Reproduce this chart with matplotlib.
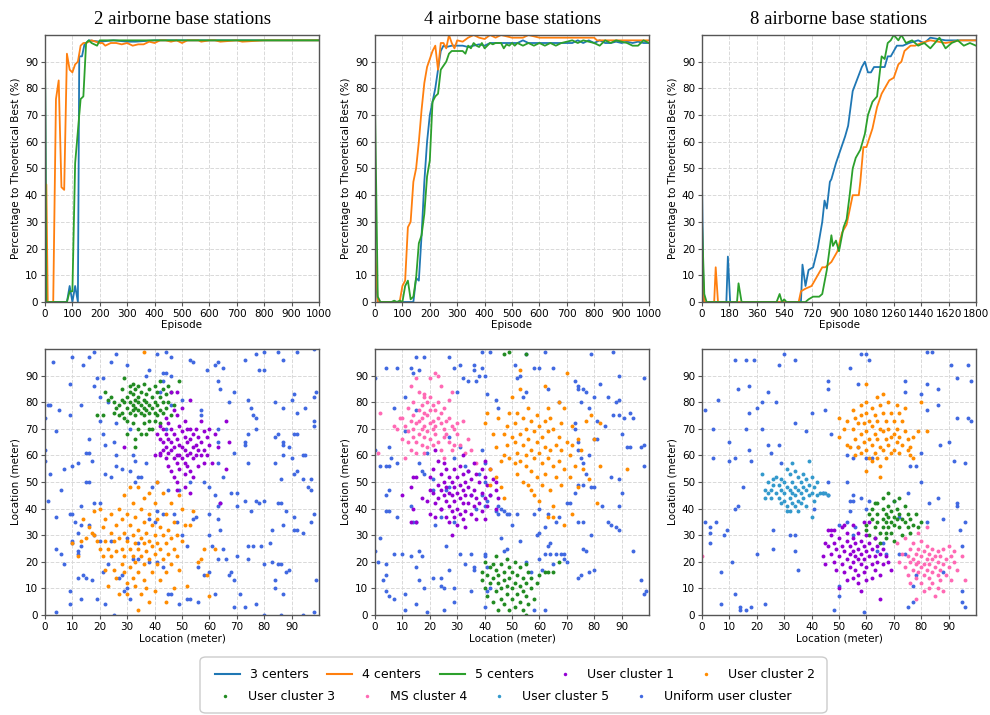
import numpy as np
import matplotlib.pyplot as plt
from matplotlib.lines import Line2D
from matplotlib.patches import FancyBboxPatch

# ---- training curves (episode, % of theoretical best) ----

# 2 airborne base stations
ep2_c3 = [0, 5, 10, 80, 90, 100, 110, 120, 125, 135, 145, 150, 160, 200, 250, 300, 330, 400, 500, 600, 700, 800, 900, 1000]
val2_c3 = [91, 0, 0, 0, 6, 0, 6, 0, 92, 92, 97, 97, 98, 97.5, 98, 97.5, 97.5, 98, 98, 98, 98, 98, 98, 98]
ep2_c4 = [0, 5, 10, 20, 30, 40, 50, 60, 70, 80, 90, 100, 110, 120, 130, 140, 150, 170, 200, 210, 220, 240, 260, 280,
          300, 320, 340, 360, 380, 400, 420, 440, 460, 480, 500, 520, 560, 570, 600, 620, 640, 700, 720, 800, 900, 1000]
val2_c4 = [20, 44, 0, 0, 0, 76, 83, 43, 42, 93, 87, 86, 89, 90, 96, 97, 97, 98, 97, 97, 96, 97, 97, 96.5,
           97, 96, 96.5, 96.5, 97.5, 97, 98, 98, 97.5, 98, 97, 98, 98, 97.5, 98, 98, 97.5, 98, 97.5, 98, 98, 98]
ep2_c5 = [0, 5, 10, 80, 90, 100, 110, 120, 130, 140, 150, 160, 170, 180, 190, 200, 300, 400, 500, 600, 700, 800, 900, 1000]
val2_c5 = [95, 0, 0, 0, 4, 4, 52, 64, 76, 77, 97, 98, 97, 96.5, 96, 98, 98, 98, 98, 98, 98, 98, 98, 98]

# 4 airborne base stations
ep4_c3 = [0, 10, 20, 140, 150, 160, 170, 180, 190, 200, 210, 220, 230, 240, 250, 260, 280, 300, 320, 340, 360, 380,
          400, 420, 460, 480, 500, 520, 540, 560, 600, 640, 700, 720, 740, 760, 780, 800, 820, 840, 860, 880, 900,
          920, 940, 960, 980, 1000]
val4_c3 = [12, 0, 0, 0, 9, 8, 25, 45, 60, 70, 75, 80, 87, 94, 96, 95.5, 96, 96, 96, 95.5, 96, 96.5,
           96, 97, 97, 97, 97, 97, 98, 97, 97, 97, 97, 97, 98, 97, 98, 97, 98, 97, 97, 97.5, 97,
           97.5, 97, 97.5, 97, 97]
ep4_c4 = [0, 10, 20, 90, 100, 110, 120, 130, 140, 150, 160, 170, 180, 190, 200, 210, 220, 230, 240, 250, 260, 270,
          280, 290, 300, 320, 340, 360, 380, 400, 420, 440, 460, 480, 500, 540, 560, 600, 700, 800, 810, 900, 1000]
val4_c4 = [22, 0, 0, 0, 6, 8, 28, 30, 45, 50, 60, 72, 82, 88, 91, 94, 96, 87, 97, 97, 95, 100,
           97, 95, 98, 97.5, 99, 100, 99, 98.5, 100, 99, 100, 99.5, 99, 99, 100, 99, 99, 99, 98, 98, 98]
ep4_c5 = [0, 10, 20, 60, 70, 80, 90, 100, 110, 120, 130, 140, 150, 160, 170, 180, 190, 200, 210, 220, 230, 240,
          250, 260, 270, 280, 320, 330, 340, 350, 360, 370, 380, 390, 400, 410, 420, 430, 440, 460, 470, 480, 490,
          500, 510, 520, 540, 560, 580, 600, 620, 640, 660, 680, 700, 720, 740, 760, 780, 800, 820, 840, 860, 880,
          900, 920, 940, 960, 980, 1000]
val4_c5 = [74, 2, 0, 0, 0.5, 0, 0.5, 0, 6, 8, 1, 2, 9, 22, 25, 33, 47, 53, 75, 77, 78, 87,
           88.5, 90, 93, 94, 94, 93, 96, 95, 97, 96, 95.5, 97, 95, 96, 97, 96.5, 97, 97, 95, 96.5, 96,
           97, 96, 97, 96, 97, 96, 97, 96, 97, 96, 97, 97.5, 98, 97, 98, 97.5, 97, 96, 98, 97, 98,
           97.5, 97, 96, 96, 98, 97]

# 8 airborne base stations
ep8_c3 = [0, 10, 160, 170, 185, 650, 660, 680, 700, 730, 760, 790, 805, 820, 840, 850, 880, 910, 940, 960, 990,
          1030, 1050, 1070, 1090, 1110, 1130, 1150, 1200, 1220, 1240, 1280, 1320, 1360, 1420, 1460, 1500, 1600,
          1700, 1800]
val8_c3 = [45, 0, 0, 17, 0, 0, 14, 6, 12, 13, 20, 30, 38, 35, 45, 46, 52, 57, 62, 66, 79,
           85, 88, 90, 86, 86, 88, 88, 88, 92, 92, 96, 96, 97, 98, 97, 99, 98,
           98, 98]
ep8_c4 = [0, 15, 80, 90, 105, 635, 650, 680, 720, 750, 790, 810, 850, 890, 920, 950, 990, 1030, 1040, 1060, 1080,
          1120, 1150, 1180, 1200, 1230, 1260, 1290, 1310, 1330, 1370, 1400, 1440, 1500, 1600, 1700, 1800]
val8_c4 = [20, 0, 0, 13, 0, 0, 4, 5, 6, 9, 13, 13, 15, 19, 26, 29, 40, 40, 45, 58, 58,
           65, 73, 78, 80, 83, 84, 89, 90, 94, 96, 96, 97, 98, 97, 98, 98]
ep8_c5 = [0, 15, 30, 230, 240, 260, 490, 510, 525, 540, 555, 680, 700, 730, 770, 790, 820, 850, 860, 880, 900,
          930, 950, 970, 990, 1010, 1040, 1070, 1090, 1120, 1150, 1180, 1200, 1220, 1240, 1260, 1290, 1310, 1340,
          1380, 1420, 1460, 1500, 1530, 1560, 1600, 1640, 1680, 1720, 1760, 1800]
val8_c5 = [30, 3, 0, 0, 7, 0, 0, 3, 0, 1, 0, 0, 1, 2, 2, 3, 12, 25, 21, 23, 19,
           28, 31, 40, 50, 54, 57, 63, 70, 75, 77, 92, 91, 97, 98, 100, 98, 100, 97,
           98, 96, 97, 95, 97, 99, 95, 97, 98, 96, 97, 96]

# ---- user locations (meter) ----

# panel 1: 2 airborne base stations
p1_uniform = [(3, 95), (10, 97), (16, 97), (18, 99), (26, 98), (30, 94), (44, 99), (46, 97), (41, 98), (24, 95), (14, 94),
              (43, 91), (44, 91), (38, 92), (37, 90), (46, 90), (53, 96), (54, 95), (59, 92), (62, 94), (63, 95), (65, 93),
              (73, 96), (77, 98), (78, 92), (80, 92), (80, 99), (85, 99), (87, 96), (92, 99), (98, 100),
              (9, 87), (1, 79), (2, 79), (5, 77), (13, 79), (18, 86), (19, 89), (21, 89), (20, 82), (23, 80), (42, 84),
              (43, 88), (46, 79), (50, 81), (63, 88), (64, 85), (69, 84), (67, 80), (74, 81), (84, 80), (87, 78), (90, 81),
              (91, 83), (92, 76), (95, 78), (98, 82), (99, 84),
              (0, 74), (4, 69), (9, 75), (16, 66), (20, 73), (21, 68), (22, 64), (25, 65), (26, 72), (31, 70), (44, 70),
              (57, 75), (57, 77), (63, 70), (63, 65), (73, 64), (73, 65), (74, 68), (75, 78), (76, 75), (77, 70), (77, 74),
              (84, 67), (85, 68), (87, 65), (87, 64), (91, 68), (92, 68), (98, 73), (98, 71),
              (0, 62), (0, 58), (2, 53), (7, 55), (10, 56), (12, 57), (15, 61), (16, 61), (17, 58), (26, 60), (32, 60),
              (33, 58), (37, 57), (63, 57), (65, 52), (69, 61), (74, 57), (84, 57), (87, 60), (89, 63), (90, 59), (92, 54),
              (91, 53), (94, 60), (95, 60), (86, 51), (94, 51), (97, 51), (96, 48), (97, 47),
              (1, 43), (6, 47), (13, 41), (15, 50), (16, 50), (18, 42), (20, 42), (22, 53), (24, 52), (26, 56), (28, 55),
              (31, 54), (33, 50), (34, 52), (35, 52), (39, 48), (41, 50), (45, 47), (49, 47), (53, 50), (58, 50), (60, 48),
              (62, 45), (63, 41), (64, 42), (68, 46), (70, 46), (70, 41), (73, 43), (75, 39), (77, 43), (78, 42), (80, 43),
              (85, 42), (86, 42), (88, 39), (91, 37), (98, 38), (97, 35),
              (4, 37), (9, 38), (10, 38), (11, 35), (13, 34), (10, 28), (10, 27), (12, 31), (13, 26), (16, 34), (18, 30),
              (20, 28), (24, 28), (4, 25), (6, 23), (7, 19), (12, 23), (12, 24), (30, 29), (34, 27), (38, 36), (40, 35),
              (41, 39), (43, 38), (47, 38), (48, 35), (50, 30), (52, 26), (54, 36), (55, 37), (60, 38), (60, 30), (63, 36),
              (64, 32), (61, 26), (63, 21), (65, 25), (66, 21), (70, 22), (74, 21), (74, 26), (76, 26), (79, 26), (80, 19),
              (82, 27), (83, 20), (85, 19), (86, 19), (87, 34), (83, 32), (91, 32), (92, 32), (94, 31), (99, 13),
              (4, 1), (9, 9), (9, 4), (12, 14), (13, 6), (14, 15), (15, 14), (17, 13), (19, 6), (21, 16), (22, 4), (23, 19),
              (25, 0), (27, 14), (28, 15), (29, 9), (30, 10), (31, 6), (32, 21), (34, 21), (38, 20), (41, 20), (43, 18),
              (45, 8), (46, 8), (49, 4), (52, 6), (53, 6), (56, 5), (56, 18), (58, 15), (60, 16), (67, 15), (68, 16),
              (69, 13), (69, 3), (71, 8), (73, 3), (77, 4), (80, 0), (84, 13), (84, 10), (86, 0), (87, 8), (88, 16),
              (89, 17), (94, 0), (98, 1), (62, 8)]
p1_cluster1 = [(41, 68), (42, 71), (42, 66), (42, 60), (43, 65), (43, 70), (43, 62), (44, 74), (44, 68), (44, 63), (44, 59),
               (45, 72), (45, 66), (45, 61), (45, 56), (46, 84), (46, 70), (46, 65), (46, 62), (46, 54), (47, 77), (47, 68),
               (47, 63), (47, 59), (47, 52), (48, 84), (48, 75), (48, 66), (48, 60), (48, 57), (48, 50), (49, 71), (49, 64),
               (49, 60), (49, 55), (50, 78), (50, 69), (50, 63), (50, 59), (51, 73), (51, 67), (51, 62), (51, 57), (51, 53),
               (52, 70), (52, 65), (52, 60), (52, 56), (53, 81), (53, 70), (53, 66), (53, 61), (53, 54), (54, 68), (54, 63),
               (54, 59), (54, 52), (55, 70), (55, 64), (55, 60), (56, 67), (56, 62), (56, 56), (57, 73), (57, 65), (57, 60),
               (58, 69), (58, 62), (58, 57), (59, 67), (59, 60), (60, 70), (60, 64), (61, 57), (62, 68), (63, 63), (64, 42),
               (66, 55), (67, 65), (66, 73), (29, 63), (40, 60), (42, 61), (48, 47), (51, 48), (53, 46)]
p1_cluster2 = [(10, 27), (12, 22), (13, 28), (14, 36), (15, 29), (16, 33), (17, 31), (18, 39), (18, 30), (19, 28), (20, 40),
               (20, 25), (21, 33), (21, 22), (22, 36), (22, 28), (22, 17), (23, 25), (23, 11), (24, 38), (24, 31), (24, 22),
               (25, 28), (25, 17), (26, 34), (26, 24), (26, 14), (27, 40), (27, 29), (27, 8), (28, 36), (28, 25), (28, 19),
               (29, 45), (29, 31), (29, 22), (29, 16), (30, 38), (30, 28), (30, 12), (30, 8), (31, 48), (31, 34), (31, 25),
               (31, 18), (32, 42), (32, 30), (32, 22), (32, 14), (33, 37), (33, 27), (33, 20), (33, 11), (34, 48), (34, 32),
               (34, 25), (34, 16), (34, 2), (35, 40), (35, 29), (35, 22), (35, 8), (36, 44), (36, 35), (36, 27), (36, 19),
               (36, 13), (37, 31), (37, 24), (37, 10), (38, 46), (38, 38), (38, 28), (38, 21), (38, 5), (39, 34), (39, 26),
               (39, 16), (40, 42), (40, 30), (40, 23), (40, 9), (41, 50), (41, 36), (41, 27), (41, 19), (42, 33), (42, 25),
               (42, 13), (43, 46), (43, 30), (43, 21), (44, 38), (44, 27), (44, 16), (45, 32), (45, 23), (46, 42), (46, 29),
               (46, 19), (47, 35), (47, 25), (48, 30), (48, 22), (49, 45), (49, 17), (50, 40), (50, 28), (51, 34), (52, 11),
               (53, 34), (54, 39), (56, 20), (57, 21), (59, 15), (60, 7), (58, 25), (62, 25), (36, 99), (44, 5), (47, 10)]
p1_cluster3 = [(22, 84), (24, 82), (23, 81), (25, 80), (26, 78), (27, 79), (27, 75), (28, 76), (28, 81), (28, 85), (29, 89),
               (29, 80), (30, 82), (30, 78), (30, 73), (31, 86), (31, 84), (31, 80), (31, 76), (32, 87), (32, 83), (32, 79),
               (32, 77), (32, 72), (33, 85), (33, 81), (33, 78), (33, 75), (34, 86), (34, 82), (34, 80), (34, 77), (34, 70),
               (35, 84), (35, 79), (35, 76), (35, 68), (36, 87), (36, 81), (36, 78), (36, 75), (36, 72), (37, 83), (37, 80),
               (37, 77), (37, 68), (38, 85), (38, 79), (38, 76), (38, 73), (39, 82), (39, 78), (39, 70), (40, 86), (40, 80),
               (40, 76), (40, 73), (41, 84), (41, 79), (41, 75), (42, 88), (42, 82), (42, 77), (42, 72), (43, 85), (43, 80),
               (43, 76), (44, 83), (44, 78), (45, 86), (45, 80), (46, 84), (46, 75), (47, 79), (49, 88), (21, 75), (19, 75),
               (30, 68), (33, 63), (33, 66), (38, 70), (25, 76), (29, 74)]

# panel 2: 4 airborne base stations
p2_uniform = [(0, 89), (4, 93), (8, 93), (11, 82), (13, 93), (14, 91), (15, 97), (16, 92), (18, 97), (15, 77), (11, 69),
              (7, 78), (27, 97), (29, 93), (31, 94), (32, 89), (34, 88), (36, 92), (36, 94), (37, 88), (38, 90), (39, 93),
              (39, 99), (42, 99), (40, 90), (41, 83), (44, 81), (45, 78), (51, 94), (52, 89), (53, 90), (54, 82), (55, 98),
              (55, 84), (58, 93), (60, 93), (62, 99), (63, 85), (65, 93), (67, 80), (73, 88), (74, 86), (74, 85), (75, 80),
              (76, 85), (77, 84), (78, 78), (79, 98), (80, 82), (81, 73), (82, 87), (84, 71), (85, 82), (87, 99), (87, 75),
              (88, 80), (89, 90), (89, 81), (89, 75), (90, 68), (91, 74), (93, 76), (94, 74), (98, 89), (73, 70), (74, 65),
              (74, 62), (75, 59), (73, 72), (78, 60), (80, 66), (81, 66),
              (0, 62), (2, 56), (4, 56), (5, 56), (5, 63), (6, 59), (8, 57), (4, 45), (5, 47), (4, 39), (5, 39), (8, 37),
              (13, 41), (14, 35), (15, 35), (16, 57), (17, 54), (18, 53), (19, 61), (21, 47), (21, 51), (22, 34), (24, 37),
              (26, 47), (27, 48), (27, 67), (29, 35), (29, 59), (30, 84), (31, 63), (33, 56), (34, 54), (35, 45), (37, 40),
              (38, 53), (39, 62), (39, 45), (40, 57), (40, 50), (40, 41), (41, 43), (42, 45), (44, 39), (45, 41), (45, 38),
              (46, 40), (47, 39), (48, 38), (49, 38), (50, 34), (52, 38), (58, 38), (60, 31), (60, 40), (62, 33), (63, 38),
              (66, 35), (67, 37), (70, 42), (71, 42), (74, 35), (76, 35), (79, 30), (79, 48), (80, 48), (83, 41), (85, 35),
              (86, 34), (88, 33), (89, 32), (89, 41), (89, 51), (90, 46), (92, 63), (93, 63), (97, 63), (98, 64), (98, 56),
              (73, 46), (74, 49), (76, 49), (77, 53), (76, 57), (86, 52),
              (0, 24), (1, 20), (2, 29), (3, 13), (4, 19), (4, 15), (4, 9), (5, 7), (7, 6), (7, 23), (10, 23), (11, 8),
              (11, 2), (13, 22), (15, 18), (15, 4), (16, 24), (16, 13), (17, 22), (18, 10), (19, 1), (21, 14), (24, 14),
              (24, 11), (25, 2), (25, 10), (26, 26), (27, 17), (29, 5), (29, 10), (31, 23), (33, 19), (35, 9), (35, 23),
              (36, 18), (36, 17), (40, 3), (40, 23), (40, 22), (41, 18), (41, 9), (42, 10), (46, 29), (47, 24), (48, 25),
              (53, 28), (55, 20), (57, 16), (58, 2), (59, 30), (60, 21), (61, 17), (62, 2), (62, 23), (63, 26), (64, 27),
              (64, 23), (65, 19), (66, 23), (68, 23), (69, 21), (69, 23), (70, 20), (74, 14), (75, 15), (76, 25), (77, 24),
              (78, 16), (80, 17), (94, 24), (97, 13), (98, 8), (99, 9)]
p2_cluster1 = [(10, 45), (13, 48), (13, 35), (14, 52), (14, 40), (15, 52), (15, 35), (17, 44), (19, 43), (20, 52), (20, 47),
               (20, 38), (21, 55), (21, 46), (22, 42), (22, 37), (23, 58), (23, 49), (23, 44), (24, 53), (24, 47), (24, 40),
               (25, 57), (25, 50), (25, 45), (26, 55), (26, 48), (26, 43), (26, 37), (27, 52), (27, 46), (27, 41), (27, 35),
               (28, 50), (28, 45), (28, 39), (29, 55), (29, 48), (29, 43), (29, 37), (30, 52), (30, 46), (30, 40), (30, 34),
               (31, 56), (31, 49), (31, 44), (31, 38), (32, 53), (32, 47), (32, 42), (32, 36), (33, 50), (33, 45), (33, 39),
               (33, 33), (34, 54), (34, 48), (34, 42), (35, 51), (35, 45), (35, 38), (36, 57), (36, 47), (36, 41), (37, 53),
               (37, 44), (37, 36), (38, 50), (38, 42), (39, 55), (39, 46), (39, 39), (40, 52), (40, 44), (40, 36), (41, 49),
               (41, 41), (42, 55), (42, 45), (43, 51), (44, 47), (44, 40), (45, 44), (28, 30), (32, 60), (40, 58), (22, 62),
               (44, 50), (24, 40)]
p2_cluster2 = [(40, 72), (41, 76), (42, 55), (43, 68), (44, 52), (44, 63), (45, 74), (46, 58), (46, 48), (47, 68), (47, 60),
               (48, 71), (48, 64), (49, 59), (49, 76), (50, 67), (50, 82), (51, 65), (51, 57), (51, 72), (52, 76), (52, 61),
               (52, 53), (53, 68), (53, 58), (53, 85), (53, 92), (54, 74), (54, 64), (54, 50), (55, 70), (55, 60), (55, 56),
               (56, 78), (56, 66), (56, 49), (57, 73), (57, 62), (57, 54), (58, 69), (58, 59), (58, 45), (59, 75), (59, 65),
               (59, 52), (60, 71), (60, 61), (60, 43), (61, 67), (61, 57), (61, 49), (62, 86), (62, 73), (62, 63), (62, 53),
               (63, 78), (63, 69), (63, 59), (63, 37), (64, 74), (64, 62), (64, 47), (65, 70), (65, 56), (65, 41), (66, 64),
               (66, 52), (67, 80), (67, 67), (67, 58), (68, 72), (68, 62), (68, 49), (69, 78), (69, 55), (69, 34), (70, 65),
               (70, 91), (71, 60), (71, 52), (72, 71), (72, 38), (73, 56), (74, 66), (74, 48), (75, 62), (76, 55), (77, 73),
               (78, 51), (79, 75), (80, 66), (81, 42), (82, 56), (82, 72), (92, 55), (42, 49), (47, 44), (57, 47), (65, 37),
               (72, 64)]
p2_cluster3 = [(39, 16), (39, 13), (40, 10), (40, 20), (41, 7), (41, 15), (42, 12), (42, 18), (43, 5), (43, 14), (44, 9),
               (44, 17), (44, 22), (45, 2), (45, 12), (45, 15), (46, 6), (46, 10), (46, 19), (47, 4), (47, 13), (47, 16),
               (48, 8), (48, 11), (48, 21), (49, 2), (49, 14), (49, 18), (50, 6), (50, 10), (50, 16), (51, 3), (51, 12),
               (51, 20), (52, 8), (52, 15), (53, 5), (53, 11), (53, 18), (54, 2), (54, 9), (54, 14), (55, 0), (55, 7),
               (55, 12), (55, 19), (56, 4), (56, 16), (57, 10), (57, 14), (58, 6), (59, 12), (60, 15), (62, 16), (63, 16),
               (65, 16), (67, 20), (47, 98), (49, 99), (55, 98), (43, 19)]
p2_cluster4 = [(8, 70), (9, 74), (10, 66), (10, 74), (11, 71), (12, 78), (12, 69), (12, 65), (13, 86), (13, 73), (13, 62),
               (14, 80), (14, 75), (14, 70), (14, 67), (15, 89), (15, 72), (15, 65), (15, 61), (16, 84), (16, 77), (16, 73),
               (16, 68), (17, 79), (17, 74), (17, 70), (17, 64), (18, 83), (18, 76), (18, 71), (18, 67), (18, 61), (19, 80),
               (19, 75), (19, 69), (19, 63), (20, 82), (20, 77), (20, 72), (20, 66), (21, 79), (21, 73), (21, 70), (21, 64),
               (22, 91), (22, 77), (22, 71), (22, 68), (23, 80), (23, 74), (23, 65), (24, 76), (24, 72), (24, 62), (25, 78),
               (25, 70), (25, 67), (26, 73), (26, 68), (27, 81), (27, 74), (27, 65), (28, 84), (28, 71), (28, 62), (29, 70),
               (29, 64), (30, 68), (31, 64), (32, 73), (33, 61), (34, 66), (35, 62), (37, 57), (2, 76), (1, 61), (7, 71),
               (11, 59), (20, 89), (23, 90), (24, 86), (18, 82), (30, 72), (25, 59)]

# panel 3: 8 airborne base stations
p3_uniform = [(1, 77), (6, 81), (4, 70), (4, 59), (10, 65), (10, 58), (12, 59), (12, 96), (13, 85), (16, 96), (16, 70),
              (17, 86), (17, 76), (17, 62), (18, 58), (19, 96), (20, 78), (22, 80), (22, 70), (24, 84), (24, 64), (25, 61),
              (27, 80), (28, 94), (28, 64), (30, 98), (34, 96), (34, 72), (38, 69), (40, 76), (45, 77), (46, 88), (46, 85),
              (47, 68), (53, 60), (54, 93), (55, 59), (57, 87), (57, 63), (58, 98), (60, 98), (61, 96), (60, 59), (62, 59),
              (74, 88), (74, 84), (76, 56), (78, 56), (80, 83), (80, 61), (80, 50), (82, 87), (82, 77), (82, 99), (84, 99),
              (86, 85), (86, 79), (87, 64), (90, 65), (91, 94), (92, 58), (93, 89), (93, 74), (96, 57), (97, 94), (97, 74),
              (98, 88), (98, 73),
              (1, 35), (3, 33), (3, 31), (3, 27), (5, 35), (8, 30), (9, 32), (7, 16), (7, 4), (11, 20), (12, 40), (13, 41),
              (12, 8), (14, 3), (14, 2), (16, 2), (18, 3), (20, 23), (23, 4), (26, 32), (26, 25), (32, 30), (34, 30),
              (34, 24), (35, 17), (15, 48), (29, 57), (41, 40), (44, 46), (46, 50), (46, 45), (50, 34), (50, 11), (50, 7),
              (48, 2), (53, 50), (53, 35), (54, 43), (55, 43), (55, 45), (54, 39), (55, 30), (56, 33), (58, 44), (59, 1),
              (60, 40), (61, 43), (64, 24), (66, 27), (67, 23), (72, 23), (74, 23), (75, 3), (75, 46), (77, 5), (77, 11),
              (78, 15), (82, 35), (83, 42), (86, 44), (88, 36), (88, 16), (93, 42), (93, 41), (94, 32), (95, 26), (95, 9),
              (95, 5), (96, 3), (96, 35), (72, 37), (70, 43)]
p3_cluster1 = [(44, 22), (45, 27), (45, 19), (46, 32), (46, 26), (47, 30), (47, 23), (48, 32), (48, 27), (48, 20), (49, 25),
               (49, 17), (50, 29), (50, 22), (51, 33), (51, 26), (51, 19), (52, 24), (52, 16), (53, 31), (53, 28), (53, 21),
               (53, 13), (54, 26), (54, 23), (54, 18), (55, 34), (55, 29), (55, 24), (55, 20), (55, 14), (56, 27), (56, 22),
               (56, 17), (57, 31), (57, 25), (57, 21), (57, 12), (58, 28), (58, 23), (58, 19), (58, 9), (59, 35), (59, 26),
               (59, 21), (59, 16), (60, 30), (60, 24), (60, 18), (60, 13), (61, 27), (61, 22), (61, 35), (62, 25), (62, 19),
               (62, 14), (63, 29), (63, 22), (63, 17), (64, 26), (64, 20), (65, 23), (65, 15), (65, 6), (66, 25), (66, 19),
               (67, 22), (68, 20), (69, 17), (47, 32), (52, 34), (50, 10), (57, 15)]
p3_cluster2 = [(50, 74), (50, 67), (52, 70), (53, 64), (53, 73), (54, 63), (55, 77), (55, 70), (56, 74), (56, 66), (56, 60),
               (57, 72), (57, 63), (58, 79), (58, 75), (58, 68), (58, 61), (59, 72), (59, 65), (60, 80), (60, 76), (60, 69),
               (60, 62), (60, 54), (61, 73), (61, 66), (61, 59), (62, 78), (62, 71), (62, 64), (62, 58), (63, 75), (63, 68),
               (63, 61), (64, 82), (64, 73), (64, 66), (64, 59), (65, 79), (65, 70), (65, 63), (65, 56), (66, 76), (66, 69),
               (66, 62), (66, 83), (67, 73), (67, 66), (67, 59), (68, 80), (68, 70), (68, 64), (69, 76), (69, 67), (69, 61),
               (70, 73), (70, 68), (70, 62), (71, 79), (71, 70), (71, 65), (72, 76), (72, 67), (72, 61), (73, 73), (73, 64),
               (74, 78), (74, 69), (75, 62), (75, 66), (76, 60), (76, 63), (77, 59), (77, 67), (79, 69), (82, 69), (80, 80),
               (60, 87), (65, 52)]
p3_cluster3 = [(60, 34), (61, 38), (61, 30), (62, 36), (62, 40), (63, 33), (63, 29), (64, 38), (64, 42), (64, 35), (65, 31),
               (65, 27), (66, 36), (66, 40), (66, 44), (66, 33), (67, 38), (67, 35), (67, 29), (68, 41), (68, 37), (68, 33),
               (68, 46), (69, 39), (69, 35), (69, 31), (70, 43), (70, 37), (70, 34), (70, 28), (71, 40), (71, 36), (72, 44),
               (72, 38), (72, 33), (73, 36), (73, 30), (74, 41), (74, 35), (75, 38), (75, 33), (76, 36), (76, 31), (77, 34),
               (78, 38), (79, 33), (80, 35), (60, 32), (63, 42), (67, 31)]
p3_cluster4 = [(72, 20), (73, 23), (74, 18), (75, 22), (75, 15), (76, 25), (76, 20), (76, 12), (77, 27), (77, 21), (77, 17),
               (78, 23), (78, 19), (78, 14), (78, 6), (79, 31), (79, 25), (79, 20), (79, 16), (80, 28), (80, 22), (80, 18),
               (80, 12), (81, 24), (81, 19), (81, 15), (81, 9), (82, 26), (82, 21), (82, 17), (82, 33), (83, 23), (83, 19),
               (83, 14), (83, 10), (84, 25), (84, 21), (84, 16), (84, 12), (85, 22), (85, 18), (85, 7), (86, 24), (86, 20),
               (86, 15), (86, 10), (87, 22), (87, 17), (87, 13), (88, 25), (88, 19), (88, 9), (89, 21), (89, 15), (90, 26),
               (90, 18), (91, 22), (91, 13), (92, 20), (92, 24), (93, 17), (95, 22), (96, 13), (71, 27), (74, 29), (0, 22)]
p3_cluster5 = [(22, 53), (23, 47), (23, 44), (24, 50), (24, 46), (25, 44), (25, 47), (26, 51), (26, 49), (27, 52), (27, 46),
               (28, 49), (28, 44), (29, 47), (29, 42), (30, 50), (30, 46), (30, 43), (31, 55), (31, 48), (31, 41), (31, 39),
               (32, 53), (32, 47), (32, 44), (32, 39), (33, 50), (33, 46), (33, 42), (34, 54), (34, 48), (34, 45), (34, 41),
               (35, 52), (35, 47), (35, 43), (35, 39), (36, 50), (36, 46), (36, 42), (37, 53), (37, 48), (37, 44), (38, 51),
               (38, 47), (38, 41), (39, 49), (39, 45), (40, 52), (40, 46), (40, 37), (41, 48), (41, 43), (42, 50), (42, 45),
               (43, 46), (44, 46), (45, 46), (46, 45), (33, 57), (39, 58), (29, 51)]

titles = ["2 airborne base stations", "4 airborne base stations", "8 airborne base stations"]
line_names = ["3 centers", "4 centers", "5 centers"]
line_colors = ["#1f77b4", "#ff7f0e", "#2ca02c"]

cl_names = ["User cluster 1", "User cluster 2", "User cluster 3", "MS cluster 4", "User cluster 5", "Uniform user cluster"]
cl_colors = ["darkviolet", "darkorange", "forestgreen", "hotpink", "#3399cc", "royalblue"]

curves = [
    [(ep2_c3, val2_c3), (ep2_c4, val2_c4), (ep2_c5, val2_c5)],
    [(ep4_c3, val4_c3), (ep4_c4, val4_c4), (ep4_c5, val4_c5)],
    [(ep8_c3, val8_c3), (ep8_c4, val8_c4), (ep8_c5, val8_c5)],
]
# (cluster index, points)  -> uniform drawn first
maps = [
    [(5, p1_uniform), (1, p1_cluster2), (2, p1_cluster3), (0, p1_cluster1)],
    [(5, p2_uniform), (3, p2_cluster4), (0, p2_cluster1), (1, p2_cluster2), (2, p2_cluster3)],
    [(5, p3_uniform), (4, p3_cluster5), (1, p3_cluster2), (2, p3_cluster3), (0, p3_cluster1), (3, p3_cluster4)],
]
ep_max = [1000, 1000, 1800]
ep_step = [100, 100, 180]

fig = plt.figure(figsize=(9.9, 7.15), dpi=100)

lefts = [45 / 990, 375 / 990, 702 / 990]
w = 274 / 990
spine_col = "#555555"


def style(ax):
    ax.grid(True, ls="--", color="#d9d9d9", lw=0.7)
    ax.set_axisbelow(True)
    for s in ax.spines.values():
        s.set_color(spine_col)
        s.set_linewidth(1.0)
    ax.tick_params(labelsize=7.5, length=3, color=spine_col, pad=2)


for i in range(3):
    ax = fig.add_axes([lefts[i], 1 - 302 / 715, w, 267 / 715])
    for (ep, val), c in zip(curves[i], line_colors):
        ax.plot(ep, val, color=c, lw=1.3)
    ax.set_xlim(0, ep_max[i])
    ax.set_ylim(0, 100)
    ax.set_xticks(np.arange(0, ep_max[i] + 1, ep_step[i]))
    ax.set_yticks(np.arange(0, 100, 10))
    ax.set_xlabel("Episode", fontsize=7.5, labelpad=1)
    ax.set_ylabel("Percentage to Theoretical Best (%)", fontsize=7.5, labelpad=3)
    ax.set_title(titles[i], fontsize=13.5, family="Liberation Serif", pad=8)
    style(ax)

    bx = fig.add_axes([lefts[i], 1 - 615 / 715, w, 266 / 715])
    for k, pts in maps[i]:
        pts = np.array(pts)
        bx.scatter(pts[:, 0], pts[:, 1], s=8, color=cl_colors[k], linewidths=0)
    bx.set_xlim(0, 100)
    bx.set_ylim(0, 100)
    bx.set_xticks(np.arange(0, 100, 10))
    bx.set_yticks(np.arange(0, 100, 10))
    bx.set_xlabel("Location (meter)", fontsize=7.5, labelpad=1)
    bx.set_ylabel("Location (meter)", fontsize=7.5, labelpad=3)
    style(bx)

# legend: two rows inside one rounded box
row1 = [Line2D([], [], color=c, lw=1.5) for c in line_colors]
row1 += [Line2D([], [], ls="", marker="o", ms=2.5, mec="none", color=cl_colors[k]) for k in (0, 1)]
row2 = [Line2D([], [], ls="", marker="o", ms=2.5, mec="none", color=cl_colors[k]) for k in (2, 3, 4, 5)]
lab1 = line_names + cl_names[:2]
lab2 = cl_names[2:]

box = FancyBboxPatch((200 / 990, 1 - 713 / 715), 627 / 990, 56 / 715,
                     boxstyle="round,pad=0,rounding_size=0.006", transform=fig.transFigure,
                     fc="white", ec="#cccccc", lw=1.0)
fig.patches.append(box)

fig.legend(row1, lab1, loc="center", bbox_to_anchor=(515 / 990, 1 - 675 / 715), ncol=5, frameon=False,
           fontsize=9, handlelength=2.0, columnspacing=1.5, handletextpad=0.8, borderpad=0)
fig.legend(row2, lab2, loc="center", bbox_to_anchor=(502 / 990, 1 - 697 / 715), ncol=4, frameon=False,
           fontsize=9, handlelength=2.0, columnspacing=1.6, handletextpad=0.8, borderpad=0)

fig.savefig("out.png", dpi=100)
